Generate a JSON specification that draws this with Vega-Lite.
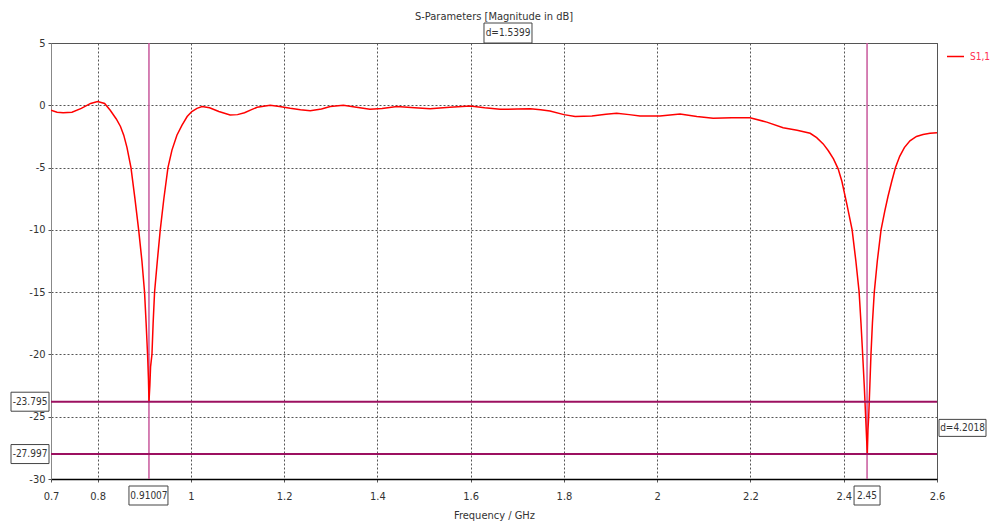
{
  "$schema": "https://vega.github.io/schema/vega-lite/v6.json",
  "width": 886,
  "height": 436,
  "autosize": "none",
  "padding": {"left": 51, "top": 43, "right": 53, "bottom": 48},
  "background": "white",
  "title": {"text": "S-Parameters [Magnitude in dB]", "fontSize": 11, "fontWeight": "normal", "font": "'DejaVu Sans Condensed', 'DejaVu Sans'", "color": "#333333", "anchor": "middle", "baseline": "bottom", "offset": 3, "dy": 13},
  "config": {
    "view": {"stroke": "#555555", "strokeWidth": 1},
    "font": "'DejaVu Sans Condensed', 'DejaVu Sans'",
    "axis": {"labelFont": "'DejaVu Sans Condensed', 'DejaVu Sans'", "labelFontSize": 11, "labelColor": "#333333", "titleFont": "'DejaVu Sans Condensed', 'DejaVu Sans'", "titleFontSize": 11, "titleFontWeight": "normal", "titleColor": "#333333", "gridColor": "#555555", "gridDash": [2, 2], "gridOpacity": 1, "gridWidth": 1, "tickColor": "#555555", "tickSize": 3}
  },
  "datasets": {
    "s11": [
      {"f": 0.700, "v": -0.4}, {"f": 0.713, "v": -0.55}, {"f": 0.726, "v": -0.6}, {"f": 0.745, "v": -0.55},
      {"f": 0.765, "v": -0.25}, {"f": 0.785, "v": 0.15}, {"f": 0.800, "v": 0.3}, {"f": 0.815, "v": 0.15},
      {"f": 0.827, "v": -0.4}, {"f": 0.840, "v": -1.1}, {"f": 0.849, "v": -1.7}, {"f": 0.856, "v": -2.4},
      {"f": 0.863, "v": -3.4}, {"f": 0.8715, "v": -5}, {"f": 0.880, "v": -7.5}, {"f": 0.888, "v": -10},
      {"f": 0.895, "v": -12.5}, {"f": 0.9006, "v": -15}, {"f": 0.904, "v": -17.5}, {"f": 0.9071, "v": -20},
      {"f": 0.909, "v": -22}, {"f": 0.9101, "v": -23.8}, {"f": 0.912, "v": -22.5}, {"f": 0.9135, "v": -21},
      {"f": 0.9165, "v": -20}, {"f": 0.919, "v": -17.5}, {"f": 0.9221, "v": -15}, {"f": 0.928, "v": -12.5},
      {"f": 0.9343, "v": -10}, {"f": 0.942, "v": -7.5}, {"f": 0.9508, "v": -5}, {"f": 0.9594, "v": -3.6},
      {"f": 0.970, "v": -2.4}, {"f": 0.981, "v": -1.6}, {"f": 0.992, "v": -0.9}, {"f": 1.002, "v": -0.5},
      {"f": 1.013, "v": -0.25}, {"f": 1.024, "v": -0.1}, {"f": 1.040, "v": -0.2}, {"f": 1.060, "v": -0.5},
      {"f": 1.084, "v": -0.78}, {"f": 1.100, "v": -0.75}, {"f": 1.115, "v": -0.6}, {"f": 1.130, "v": -0.35},
      {"f": 1.142, "v": -0.16}, {"f": 1.170, "v": 0.0}, {"f": 1.190, "v": -0.1}, {"f": 1.213, "v": -0.24},
      {"f": 1.235, "v": -0.35}, {"f": 1.256, "v": -0.43}, {"f": 1.280, "v": -0.3}, {"f": 1.299, "v": -0.1},
      {"f": 1.327, "v": 0.0}, {"f": 1.355, "v": -0.15}, {"f": 1.384, "v": -0.32}, {"f": 1.410, "v": -0.25},
      {"f": 1.442, "v": -0.1}, {"f": 1.480, "v": -0.2}, {"f": 1.513, "v": -0.27}, {"f": 1.555, "v": -0.15},
      {"f": 1.599, "v": -0.06}, {"f": 1.630, "v": -0.2}, {"f": 1.663, "v": -0.32}, {"f": 1.700, "v": -0.3},
      {"f": 1.728, "v": -0.27}, {"f": 1.750, "v": -0.35}, {"f": 1.770, "v": -0.46}, {"f": 1.800, "v": -0.75},
      {"f": 1.824, "v": -0.9}, {"f": 1.860, "v": -0.86}, {"f": 1.890, "v": -0.72}, {"f": 1.913, "v": -0.64},
      {"f": 1.940, "v": -0.75}, {"f": 1.963, "v": -0.86}, {"f": 2.006, "v": -0.86}, {"f": 2.049, "v": -0.7},
      {"f": 2.085, "v": -0.9}, {"f": 2.120, "v": -1.05}, {"f": 2.160, "v": -1.0}, {"f": 2.199, "v": -1.0},
      {"f": 2.235, "v": -1.35}, {"f": 2.270, "v": -1.8}, {"f": 2.300, "v": -2.0}, {"f": 2.328, "v": -2.25},
      {"f": 2.342, "v": -2.6}, {"f": 2.356, "v": -3.1}, {"f": 2.367, "v": -3.65}, {"f": 2.378, "v": -4.3},
      {"f": 2.388, "v": -5.1}, {"f": 2.396, "v": -6.1}, {"f": 2.407, "v": -8}, {"f": 2.418, "v": -10},
      {"f": 2.426, "v": -12.5},
      {"f": 2.433, "v": -15}, {"f": 2.437, "v": -17.5}, {"f": 2.4406, "v": -20}, {"f": 2.444, "v": -22.5},
      {"f": 2.447, "v": -25}, {"f": 2.4505, "v": -28}, {"f": 2.452, "v": -26}, {"f": 2.4535, "v": -25},
      {"f": 2.456, "v": -22.5}, {"f": 2.4584, "v": -20}, {"f": 2.4615, "v": -17.5}, {"f": 2.4655, "v": -15},
      {"f": 2.472, "v": -12.5}, {"f": 2.480, "v": -10}, {"f": 2.488, "v": -8.5}, {"f": 2.495, "v": -7.3},
      {"f": 2.503, "v": -6.1}, {"f": 2.511, "v": -5.0}, {"f": 2.520, "v": -4.1}, {"f": 2.530, "v": -3.4},
      {"f": 2.542, "v": -2.85}, {"f": 2.556, "v": -2.5}, {"f": 2.570, "v": -2.35}, {"f": 2.585, "v": -2.25},
      {"f": 2.600, "v": -2.2}
    ]
  },
  "layer": [
    {
      "data": {"values": [{"x": 0.91007}, {"x": 2.45}]},
      "mark": {"type": "rule", "color": "#c8589c", "strokeWidth": 1.5},
      "encoding": {
        "x": {"field": "x", "type": "quantitative", "scale": {"domain": [0.7, 2.6], "nice": false, "zero": false},
          "axis": {"values": [0.7, 0.8, 1, 1.2, 1.4, 1.6, 1.8, 2, 2.2, 2.4, 2.6], "labelExpr": "datum.value + ''", "title": "Frequency / GHz", "titlePadding": 8, "labelPadding": 8, "domainColor": "#000000", "domainWidth": 1.5, "grid": true, "labelFlush": false}},
        "y": {"datum": -30, "type": "quantitative"},
        "y2": {"datum": 5}
      }
    },
    {
      "data": {"name": "s11"},
      "transform": [{"calculate": "'S1,1'", "as": "series"}],
      "mark": {"type": "line", "strokeWidth": 1.5, "clip": true},
      "encoding": {
        "x": {"field": "f", "type": "quantitative"},
        "y": {"field": "v", "type": "quantitative", "scale": {"domain": [-30, 5], "nice": false, "zero": false},
          "axis": {"values": [5, 0, -5, -10, -15, -20, -25, -30], "labelExpr": "datum.value + ''", "title": null, "labelPadding": 3, "domainColor": "#888888", "grid": true}},
        "color": {"field": "series", "type": "nominal", "scale": {"range": ["#ff0000"]},
          "legend": {"orient": "none", "legendX": 895, "legendY": 4, "title": null, "padding": 0, "symbolType": "stroke", "symbolSize": 289, "symbolStrokeWidth": 1.5, "labelColor": "#ff3050", "labelFont": "'DejaVu Sans Condensed', 'DejaVu Sans'", "labelFontSize": 10, "labelOffset": 5, "labelLimit": 60}}
      }
    },
    {
      "data": {"values": [{"y": -23.795}, {"y": -27.997}]},
      "mark": {"type": "rule", "color": "#9c1060", "strokeWidth": 2},
      "encoding": {
        "y": {"field": "y", "type": "quantitative"},
        "x": {"datum": 0.7, "type": "quantitative"},
        "x2": {"datum": 2.6}
      }
    },
    {
      "data": {"values": [{"x": 0.91007, "label": "0.91007"}]},
      "mark": {"type": "rect", "fill": "white", "stroke": "#444444", "strokeWidth": 1, "xOffset": -20, "x2Offset": 19, "yOffset": 7, "y2Offset": 26, "clip": false},
      "encoding": {"x": {"field": "x", "type": "quantitative"}, "x2": {"field": "x"}, "y": {"datum": -30, "type": "quantitative"}, "y2": {"datum": -30}}
    },
    {
      "data": {"values": [{"x": 2.45, "label": "2.45"}]},
      "mark": {"type": "rect", "fill": "white", "stroke": "#444444", "strokeWidth": 1, "xOffset": -13, "x2Offset": 13, "yOffset": 7, "y2Offset": 26, "clip": false},
      "encoding": {"x": {"field": "x", "type": "quantitative"}, "x2": {"field": "x"}, "y": {"datum": -30, "type": "quantitative"}, "y2": {"datum": -30}}
    },
    {
      "data": {"values": [{"x": 0.91007, "label": "0.91007"}, {"x": 2.45, "label": "2.45"}]},
      "mark": {"type": "text", "fontSize": 10, "color": "#333333", "dy": 16.5, "baseline": "middle", "align": "center"},
      "encoding": {"x": {"field": "x", "type": "quantitative"}, "y": {"datum": -30, "type": "quantitative"}, "text": {"field": "label"}}
    },
    {
      "data": {"values": [{"y": -23.795, "label": "-23.795"}, {"y": -27.997, "label": "-27.997"}]},
      "mark": {"type": "rect", "fill": "white", "stroke": "#444444", "strokeWidth": 1, "xOffset": -40, "x2Offset": -2, "yOffset": -9.5, "y2Offset": 9.5, "clip": false},
      "encoding": {"x": {"datum": 0.7, "type": "quantitative"}, "x2": {"datum": 0.7}, "y": {"field": "y", "type": "quantitative"}, "y2": {"field": "y"}}
    },
    {
      "data": {"values": [{"y": -23.795, "label": "-23.795"}, {"y": -27.997, "label": "-27.997"}]},
      "mark": {"type": "text", "fontSize": 10, "color": "#333333", "dx": -21, "baseline": "middle", "align": "center"},
      "encoding": {"x": {"datum": 0.7, "type": "quantitative"}, "y": {"field": "y", "type": "quantitative"}, "text": {"field": "label"}}
    },
    {
      "data": {"values": [{"x": 1.68, "label": "d=1.5399"}]},
      "mark": {"type": "rect", "fill": "white", "stroke": "#444444", "strokeWidth": 1, "xOffset": -24, "x2Offset": 24, "yOffset": -20, "y2Offset": 0, "clip": false},
      "encoding": {"x": {"field": "x", "type": "quantitative"}, "x2": {"field": "x"}, "y": {"datum": 5, "type": "quantitative"}, "y2": {"datum": 5}}
    },
    {
      "data": {"values": [{"x": 1.68, "label": "d=1.5399"}]},
      "mark": {"type": "text", "fontSize": 10, "color": "#333333", "dy": -10, "baseline": "middle", "align": "center"},
      "encoding": {"x": {"field": "x", "type": "quantitative"}, "y": {"datum": 5, "type": "quantitative"}, "text": {"field": "label"}}
    },
    {
      "data": {"values": [{"y": -25.896, "label": "d=4.2018"}]},
      "mark": {"type": "rect", "fill": "white", "stroke": "#444444", "strokeWidth": 1, "xOffset": 2, "x2Offset": 49, "yOffset": -8.5, "y2Offset": 8.5, "clip": false},
      "encoding": {"x": {"datum": 2.6, "type": "quantitative"}, "x2": {"datum": 2.6}, "y": {"field": "y", "type": "quantitative"}, "y2": {"field": "y"}}
    },
    {
      "data": {"values": [{"y": -25.896, "label": "d=4.2018"}]},
      "mark": {"type": "text", "fontSize": 10, "color": "#333333", "dx": 25.5, "baseline": "middle", "align": "center"},
      "encoding": {"x": {"datum": 2.6, "type": "quantitative"}, "y": {"field": "y", "type": "quantitative"}, "text": {"field": "label"}}
    }
  ]
}
